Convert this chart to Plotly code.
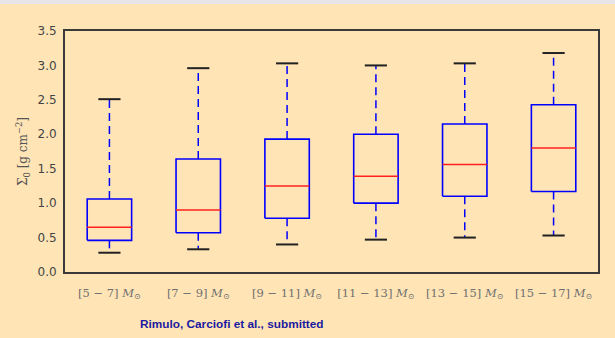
import plotly.graph_objects as go

categories = ["[5 − 7]", "[7 − 9]", "[9 − 11]", "[11 − 13]", "[13 − 15]", "[15 − 17]"]
lower = [0.28, 0.33, 0.40, 0.47, 0.50, 0.53]
q1 = [0.46, 0.57, 0.78, 1.00, 1.10, 1.17]
median = [0.65, 0.90, 1.25, 1.39, 1.56, 1.80]
q3 = [1.06, 1.64, 1.93, 2.00, 2.15, 2.43]
upper = [2.51, 2.96, 3.03, 3.00, 3.03, 3.18]
yticks = [0.0, 0.5, 1.0, 1.5, 2.0, 2.5, 3.0, 3.5]

BW = 0.25   # half box width
CW = 0.125  # half cap width

bx, by, mx, my, wx, wy, cx, cy = [], [], [], [], [], [], [], []
for i in range(len(categories)):
    x = i + 1
    bx += [x - BW, x + BW, x + BW, x - BW, x - BW, None]
    by += [q1[i], q1[i], q3[i], q3[i], q1[i], None]
    mx += [x - BW, x + BW, None]
    my += [median[i], median[i], None]
    wx += [x, x, None, x, x, None]
    wy += [q3[i], upper[i], None, q1[i], lower[i], None]
    cx += [x - CW, x + CW, None, x - CW, x + CW, None]
    cy += [upper[i], upper[i], None, lower[i], lower[i], None]

fig = go.Figure()
fig.add_trace(go.Scatter(x=wx, y=wy, mode="lines",
                         line=dict(color="#0000ff", width=1.5, dash="8px,5px"),
                         hoverinfo="skip"))
fig.add_trace(go.Scatter(x=cx, y=cy, mode="lines",
                         line=dict(color="#222222", width=2), hoverinfo="skip"))
fig.add_trace(go.Scatter(x=bx, y=by, mode="lines",
                         line=dict(color="#0000ff", width=1.6), hoverinfo="skip"))
fig.add_trace(go.Scatter(x=mx, y=my, mode="lines",
                         line=dict(color="#ff2020", width=1.5), hoverinfo="skip"))

bg = "#ffe4b6"
fig.update_layout(
    width=615, height=338,
    margin=dict(l=65, r=17, t=31, b=66, autoexpand=False),
    paper_bgcolor=bg, plot_bgcolor=bg,
    showlegend=False,
    xaxis=dict(range=[0.5, 6.5],
               tickvals=list(range(1, len(categories) + 1)),
               ticktext=[c + " <i>M</i><sub>⊙</sub>" for c in categories],
               tickfont=dict(family="DejaVu Serif", size=11.5, color="#707070"),
               showgrid=False, zeroline=False, ticks="", ticklabelstandoff=9,
               showline=True, mirror=True, linecolor="#3a3a3a", linewidth=2,
               automargin=False),
    yaxis=dict(range=[0, 3.5], tickvals=yticks,
               ticktext=[f"{v:.1f}" for v in yticks],
               tickfont=dict(family="DejaVu Sans", size=12, color="#444444"),
               showgrid=False, zeroline=False, ticks="", ticklabelstandoff=4,
               showline=True, mirror=True, linecolor="#3a3a3a", linewidth=2,
               automargin=False,
               title=dict(text="Σ<sub>0</sub> [g cm<sup>−2</sup>]",
                          font=dict(family="DejaVu Serif", size=12, color="#555555"),
                          standoff=7)),
    shapes=[dict(type="rect", xref="paper", yref="paper",
                 x0=-0.2, x1=1.1, y0=1.112, y1=1.2,
                 fillcolor="#e6e4e6", line=dict(width=0), layer="below")],
    annotations=[dict(text="<b>Rimulo, Carciofi et al., submitted</b>",
                      xref="paper", yref="paper", x=(232 - 65) / 533, y=(272 - 324) / 241,
                      xanchor="center", yanchor="middle", showarrow=False,
                      font=dict(family="Liberation Sans", size=11.8, color="#1a1aa0"))],
)

fig.write_html("out.html", config={"displayModeBar": False},
               post_script="document.body.style.margin='0';document.body.style.background='#ffe4b6';")
